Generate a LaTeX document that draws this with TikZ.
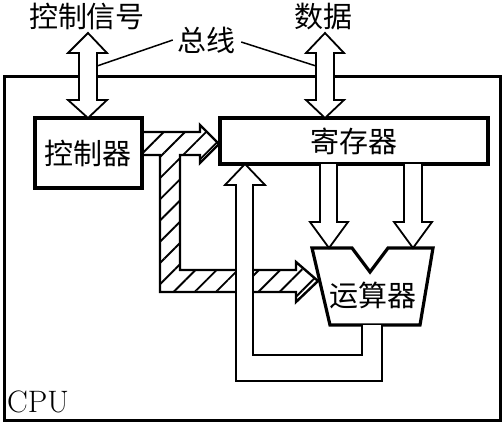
\documentclass[tikz,border=0pt]{standalone}
\usepackage{fontspec}
\newfontfamily\cjk{Noto Sans CJK SC}
\usetikzlibrary{patterns.meta}

\tikzset{
  unit/.style={draw, line width=3.2pt, fill=white, inner sep=0pt},
  bus/.style={draw, line width=1.8pt, fill=white, line join=miter},
  hatched/.style={draw, line width=2.4pt, line join=miter,
    pattern={Lines[angle=45,distance=15pt,line width=1.9pt]}},
  lbl/.style={font=\cjk\fontsize{29}{29}\selectfont, inner sep=0pt},
}

\begin{document}
\begin{tikzpicture}[x=1pt,y=-1pt]
\useasboundingbox (0,0) rectangle (504,423);

% the CPU frame
\draw[line width=3pt] (4,76) rectangle (500,420);
\node[anchor=base west, inner sep=0pt, font=\fontsize{31}{31}\selectfont] (cpu) at (7,412) {CPU};

% units
\node[unit, lbl, minimum width=107pt, minimum height=70pt] (ctrl) at (88.5,153) {控制器};
\node[unit, lbl, minimum width=268pt, minimum height=46pt] (reg) at (354,141) {寄存器};
\draw[line width=3.2pt, line join=miter, fill=white] (312,248) -- (352,248) -- (370,272)
  -- (388,248) -- (433,248) -- (420,325) -- (330,325) -- cycle;
\node[lbl] (alu) at (373,295) {运算器};

% control lines (hatched)
\path[hatched] (142,132) -- (200,132) -- (200,125) -- (219,144) -- (200,163) -- (200,155)
  -- (180,155) -- (180,270) -- (296,270) -- (296,262) -- (318,281) -- (296,302)
  -- (296,292) -- (160,292) -- (160,155) -- (142,155);

% result back to the registers
\path[bus] (362,325) -- (362,355) -- (253,355) -- (253,185) -- (265,185) -- (245,164)
  -- (225,185) -- (236,185) -- (236,381) -- (382,381) -- (382,325);

% registers to the ALU
\path[bus] (320,164) -- (320,222) -- (310,222) -- (329,248) -- (348,222) -- (337,222) -- (337,164);
\path[bus] (404,164) -- (404,222) -- (394,222) -- (413,248) -- (432,222) -- (422,222) -- (422,164);

% system bus
\path[bus] (88,33) -- (107,53) -- (97,53) -- (97,100) -- (107,100) -- (88,118)
  -- (68,100) -- (79,100) -- (79,53) -- (68,53) -- cycle;
\path[bus] (325,33) -- (344,53) -- (334,53) -- (334,100) -- (344,100) -- (325,118)
  -- (306,100) -- (316,100) -- (316,53) -- (306,53) -- cycle;
\coordinate (cbus) at (97,66);
\coordinate (dbus) at (316,66);

\node[lbl] (ctrlsig) at (87,17) {控制信号};
\node[lbl] (data) at (323,17) {数据};
\node[lbl] (buslbl) at (206,40) {总线};
\draw[line width=1.5pt] (buslbl.west) ++(-4,0) -- (cbus);
\draw[line width=1.5pt] (buslbl.east) ++(6,2) -- (dbus);
\end{tikzpicture}
\end{document}
